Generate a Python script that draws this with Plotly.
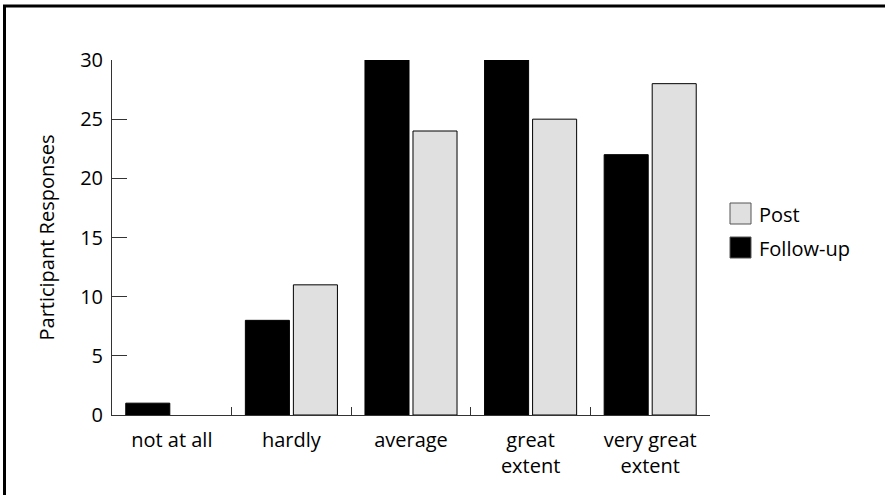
import plotly.graph_objects as go

categories = ["not at all", "hardly", "average", "great<br>extent", "very great<br>extent"]
follow_up = [1, 8, 30, 30, 22]
post = [0, 11, 24, 25, 28]
y_ticks = [0, 5, 10, 15, 20, 25, 30]
series_names = ["Post", "Follow-up"]
series_colors = ["#e0e0e0", "#000000"]

FONT = "Open Sans"
FS = 20
W, H = 885, 495
L, R, T, B = 112, 175, 60, 80
pw, ph = W - L - R, H - T - B


def px_x(x):
    return (x - L) / pw


def px_y(y):
    return (H - B - y) / ph


fig = go.Figure()
fig.add_trace(go.Bar(x=categories, y=follow_up, name=series_names[1],
                     marker=dict(color=series_colors[1], line=dict(color="#000000", width=1))))
fig.add_trace(go.Bar(x=categories, y=post, name=series_names[0],
                     marker=dict(color=series_colors[0],
                                 line=dict(color="#000000",
                                           width=[1 if v > 0 else 0 for v in post]))))

shapes = [
    dict(type="line", xref="paper", yref="paper", x0=px_x(3), x1=px_x(W + 5),
         y0=px_y(6), y1=px_y(6), line=dict(color="#000000", width=3)),
    dict(type="line", xref="paper", yref="paper", x0=px_x(4.5), x1=px_x(4.5),
         y0=px_y(5), y1=px_y(H + 5), line=dict(color="#000000", width=3)),
]
annotations = []
# custom legend (larger swatches than plotly's built-in legend icons)
leg_x0, leg_x1 = 730, 751
leg_tops = [203, 237]
for name, color, top in zip(series_names, series_colors, leg_tops):
    shapes.append(dict(type="rect", xref="paper", yref="paper",
                       x0=px_x(leg_x0), x1=px_x(leg_x1), y0=px_y(top + 21), y1=px_y(top),
                       fillcolor=color, line=dict(color="#555555", width=1)))
    annotations.append(dict(text=name, xref="paper", yref="paper",
                            x=px_x(757), y=px_y(top + 11), xanchor="left", yanchor="middle",
                            showarrow=False, font=dict(size=FS, color="#000000")))

fig.update_layout(
    width=W, height=H,
    margin=dict(l=L, r=R, t=T, b=B),
    paper_bgcolor="white", plot_bgcolor="white",
    font=dict(family=FONT, size=FS, color="#000000"),
    barmode="group", bargap=0.197, bargroupgap=0.083,
    showlegend=False,
    xaxis=dict(showline=True, linecolor="#333333", linewidth=1,
               ticks="inside", tickson="boundaries", ticklen=8, tickcolor="#333333",
               showgrid=False, zeroline=False, tickfont=dict(size=FS),
               ticklabelstandoff=7),
    yaxis=dict(range=[0, 30], tickvals=y_ticks, showline=True, linecolor="#333333",
               linewidth=1, ticks="inside", ticklen=15, tickcolor="#333333",
               showgrid=False, zeroline=False, ticklabelstandoff=4,
               tickfont=dict(size=FS),
               title=dict(text="Participant Responses", font=dict(size=FS), standoff=20)),
    shapes=shapes,
    annotations=annotations,
)

fig.write_html("out.html", config={"displayModeBar": False},
               post_script="document.body.style.margin='0';")
